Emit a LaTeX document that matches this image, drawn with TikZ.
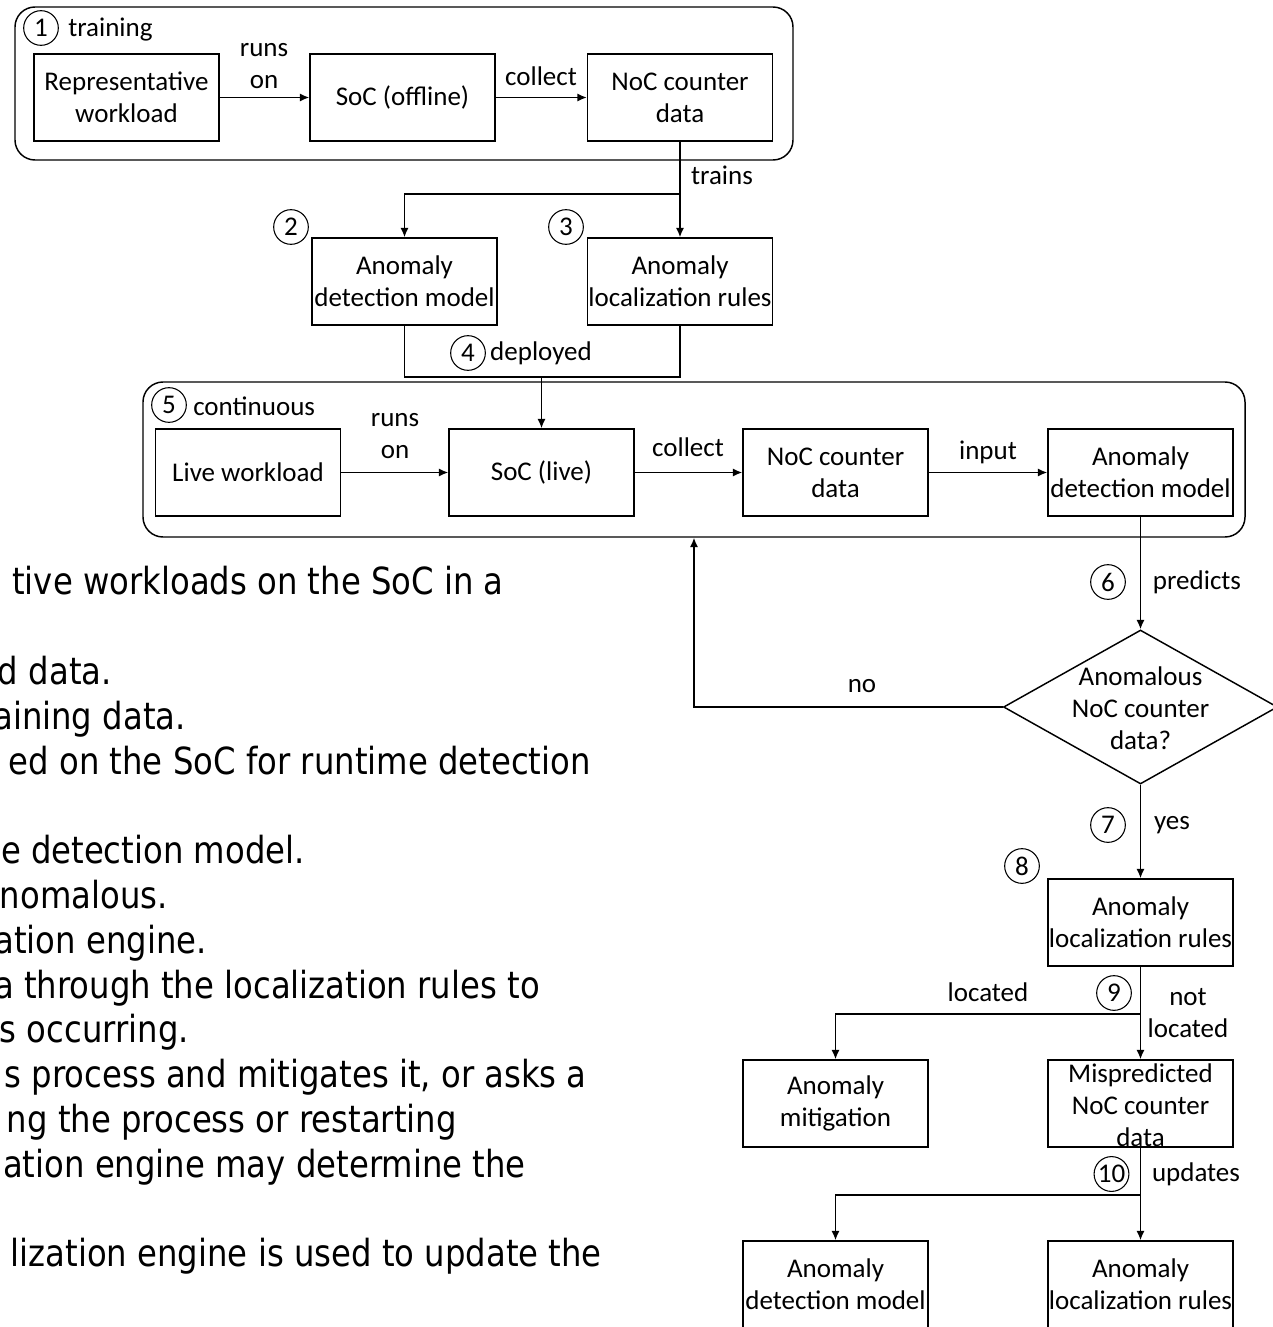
\documentclass[tikz,border=0pt]{standalone}
\usepackage{fontspec}
\setmainfont{Carlito}
\newfontfamily\notefont{DejaVu Sans}[FakeStretch=0.865]
\usetikzlibrary{arrows.meta,shapes.geometric}

\newcommand\diagfont{\fontsize{20.25}{24}\selectfont}
\newcommand\stepfont{\notefont\fontsize{28}{33.6}\selectfont}

\tikzset{
  box/.style={draw, line width=1.1pt, minimum width=138.75pt, minimum height=65.25pt,
    inner sep=0pt, align=center, font=\diagfont},
  frame/.style={draw, line width=1.1pt, rounded corners=15pt, inner sep=0pt},
  num/.style={circle, draw, line width=0.8pt, inner sep=0.6pt, minimum size=26pt, font=\diagfont},
  lbl/.style={inner sep=0pt, align=center, font=\diagfont},
  note/.style={inner sep=0pt, anchor=base east, font=\stepfont},
  conn/.style={line width=1.1pt, -{Latex[length=7pt,width=6pt]}},
  wire/.style={line width=1.1pt},
}

\begin{document}
\begin{tikzpicture}[x=0.75pt, y=-0.75pt]
\useasboundingbox (0,0) rectangle (1273,1327);

% ---- offline training stage ----
\node[frame, minimum width=583.5pt, minimum height=114.75pt] (train) at (404,83.5) {};
\node[num] (n1) at (41,28) {1};
\node[lbl, anchor=west] (ltrain) at (68,30) {training};
\node[box] (rep) at (126.5,97.5) {Representative\\workload};
\node[box] (socoff) at (402.5,97.5) {SoC (offline)};
\node[box] (noc1) at (680,97.5) {NoC counter\\data};
\draw[conn] (rep.east) -- (socoff.west);
\draw[conn] (socoff.east) -- (noc1.west);
\node[lbl] (lruns1) at (264,66) {runs\\on};
\node[lbl] (lcoll1) at (541,76) {collect};

% ---- trained artefacts ----
\node[box] (det1) at (404.5,281.5) {Anomaly\\detection model};
\node[box] (loc1) at (680,281.5) {Anomaly\\localization rules};
\node[num] (n2) at (291,227) {2};
\node[num] (n3) at (566,227) {3};
\coordinate (split1) at (680,194);
\draw[conn] (noc1.south) -- (loc1.north);
\draw[conn] (split1) -| (det1.north);
\node[lbl] (ltrains) at (722,175) {trains};

% ---- deployment ----
\coordinate (join1) at (541.5,377);
\draw[wire] (det1.south) -- (det1.south |- join1) -- (loc1.south |- join1) -- (loc1.south);
\node[num] (n4) at (468,353) {4};
\node[lbl] (ldep) at (541,353) {deployed};

% ---- continuous runtime stage ----
\node[frame, minimum width=826.5pt, minimum height=116.25pt] (cont) at (694,459.5) {};
\node[num] (n5) at (169,405) {5};
\node[lbl, anchor=west] (lcont) at (193,406) {continuous};
\node[box] (live) at (248,472.5) {Live workload};
\node[box] (soclive) at (541.5,472.5) {SoC (live)};
\node[box] (noc2) at (835.5,472.5) {NoC counter\\data};
\node[box] (det2) at (1140.5,472.5) {Anomaly\\detection model};
\draw[conn] (join1) -- (soclive.north);
\draw[conn] (live.east) -- (soclive.west);
\draw[conn] (soclive.east) -- (noc2.west);
\draw[conn] (noc2.east) -- (det2.west);
\node[lbl] (lruns2) at (395,436) {runs\\on};
\node[lbl] (lcoll2) at (688,447) {collect};
\node[lbl] (linput) at (988,452) {input};

% ---- decision ----
\node[diamond, draw, line width=1.1pt, inner sep=0pt, minimum width=205.5pt, minimum height=115.5pt] (dec) at (1140.5,707) {};
\node[lbl] (ldec) at (1140.5,708) {Anomalous\\NoC counter\\data?};
\draw[conn] (det2.south) -- (dec.north);
\node[num] (n6) at (1108,582) {6};
\node[lbl] (lpred) at (1197,582) {predicts};
\draw[conn] (dec.west) -| (cont.south);
\node[lbl] (lno) at (862,686) {no};

% ---- localization ----
\node[box] (loc2) at (1140.5,922.5) {Anomaly\\localization rules};
\draw[conn] (dec.south) -- (loc2.north);
\node[num] (n7) at (1108,825) {7};
\node[lbl] (lyes) at (1172,825) {yes};
\node[num] (n8) at (1022,866) {8};

\node[box] (mit) at (835.5,1103.5) {Anomaly\\mitigation};
\node[box] (mis) at (1140.5,1103.5) {};
\node[lbl] (lmis) at (1140.5,1105) {Mispredicted\\NoC counter\\data};
\coordinate (split2) at (1140.5,1014);
\draw[conn] (loc2.south) -- (mis.north);
\draw[conn] (split2) -| (mit.north);
\node[lbl] (lloc) at (988,992) {located};
\node[num] (n9) at (1114,993) {9};
\node[lbl] (lnot) at (1188,1013) {not\\located};

% ---- model updates ----
\node[box] (det3) at (835.5,1284.5) {Anomaly\\detection model};
\node[box] (loc3) at (1140.5,1284.5) {Anomaly\\localization rules};
\coordinate (split3) at (1140.5,1195);
\draw[conn] (mis.south) -- (loc3.north);
\draw[conn] (split3) -| (det3.north);
\node[num] (n10) at (1111.5,1174) {10};
\node[lbl] (lupd) at (1196,1174) {updates};

% ---- step descriptions ----
\node[note] (s1) at (504,594) {tive workloads on the SoC in a};
\node[note] (s2) at (112,684) {d data.};
\node[note] (s3) at (186,729) {aining data.};
\node[note] (s4) at (591,774) {ed on the SoC for runtime detection};
\node[note] (s5) at (305,863) {e detection model.};
\node[note] (s6) at (168,908) {nomalous.};
\node[note] (s7) at (207,953) {ation engine.};
\node[note] (s8) at (540,998) {a through the localization rules to};
\node[note] (s9) at (189,1042) {s occurring.};
\node[note] (s10) at (587,1087) {s process and mitigates it, or asks a};
\node[note] (s11) at (457,1132) {ng the process or restarting};
\node[note] (s12) at (526,1177) {ation engine may determine the};
\node[note] (s13) at (602,1266) {lization engine is used to update the};
\end{tikzpicture}
\end{document}
